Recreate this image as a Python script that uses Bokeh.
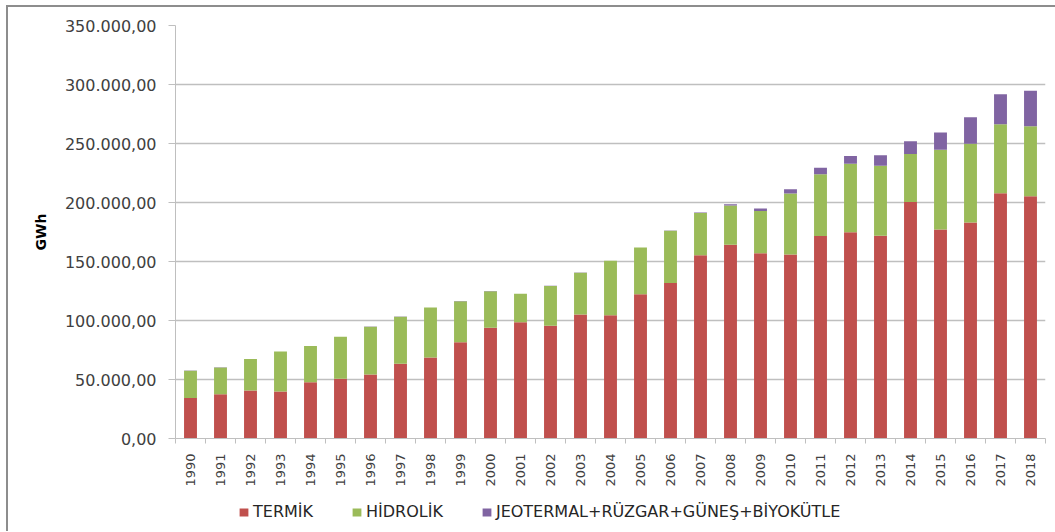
import math
from bokeh.plotting import figure
from bokeh.layouts import column
from bokeh.models import FixedTicker, Legend, LegendItem, PrintfTickFormatter, Range1d
from bokeh.embed import file_html
from bokeh.resources import INLINE

years = list(range(1990, 2019))
termik = [34315, 37563, 40704, 39779, 47757, 50621, 54302, 63397, 68703, 81661,
          93934, 98563, 95563, 105101, 104464, 122242, 131835, 155196, 164139, 156923,
          155828, 171638, 174872, 171797, 200417, 177100, 183000, 207900, 205400]
hidrolik = [23148, 22683, 26568, 33951, 30586, 35541, 40475, 39816, 42229, 34678,
            30879, 24010, 33684, 35330, 46084, 39561, 44244, 35851, 33270, 35958,
            51796, 52339, 57865, 59420, 40645, 67600, 66700, 58500, 59300]
yenilenebilir = [80, 81, 70, 70, 79, 86, 84, 83, 90, 101,
                 109, 152, 153, 150, 151, 153, 220, 511, 1009, 1931,
                 3585, 5418, 6760, 8921, 10901, 14600, 22600, 25400, 30000]
series_names = ["TERMİK", "HİDROLİK", "JEOTERMAL+RÜZGAR+GÜNEŞ+BİYOKÜTLE"]
colors = ["#C0504D", "#9BBB59", "#8064A2"]
y_ticks = [0, 50000, 100000, 150000, 200000, 250000, 300000, 350000]
y_tick_labels = ["0,00", "50.000,00", "100.000,00", "150.000,00", "200.000,00",
                 "250.000,00", "300.000,00", "350.000,00"]

FONT = "DejaVu Sans"
TXT = "#404040"
GRID = "#BFBFBF"

p = figure(width=1047, height=482, output_backend="svg", toolbar_location=None,
           x_range=Range1d(years[0] - 0.5, years[-1] + 0.5),
           y_range=Range1d(0, 350000),
           min_border_left=167, min_border_right=10, min_border_top=18, min_border_bottom=51)
p.outline_line_color = None

data = {"year": years, "t": termik, "h": hidrolik, "r": yenilenebilir}
p.vbar_stack(["t", "h", "r"], x="year", width=0.43, source=data,
             color=colors, line_color=None)

# x axis
p.xaxis.ticker = FixedTicker(ticks=years, minor_ticks=[y + 0.5 for y in [years[0] - 1] + years])
p.xaxis.formatter = PrintfTickFormatter(format="%d")
p.xaxis.major_label_orientation = math.pi / 2
p.xaxis.major_tick_line_color = None
p.xaxis.major_tick_out = 0
p.xaxis.major_tick_in = 0
p.xaxis.minor_tick_out = 5
p.xaxis.minor_tick_in = 0
p.xaxis.minor_tick_line_color = GRID
p.xaxis.axis_line_color = GRID
p.xaxis.major_label_standoff = 10
p.xaxis.major_label_text_font = FONT
p.xaxis.major_label_text_font_size = "13px"
p.xaxis.major_label_text_color = TXT
p.xgrid.grid_line_color = None

# y axis
p.yaxis.ticker = FixedTicker(ticks=y_ticks)
p.yaxis.major_label_overrides = {t: l for t, l in zip(y_ticks, y_tick_labels)}
p.yaxis.minor_tick_line_color = None
p.yaxis.major_tick_out = 7
p.yaxis.major_tick_in = 0
p.yaxis.major_tick_line_color = GRID
p.yaxis.axis_line_color = GRID
p.yaxis.major_label_standoff = 12
p.yaxis.major_label_text_font = FONT
p.yaxis.major_label_text_font_size = "16px"
p.yaxis.major_label_text_color = TXT
p.yaxis.axis_label = "GWh"
p.yaxis.axis_label_text_font = FONT
p.yaxis.axis_label_text_font_size = "14px"
p.yaxis.axis_label_text_font_style = "bold"
p.yaxis.axis_label_text_color = "#000000"
p.yaxis.axis_label_standoff = 13
p.ygrid.grid_line_color = GRID
p.ygrid.grid_line_width = 1.5

# legend strip (separate figure so the legend is not clipped by the frame)
pl = figure(width=1047, height=42, output_backend="svg", toolbar_location=None,
            x_range=Range1d(0, 1), y_range=Range1d(0, 1),
            min_border_left=0, min_border_right=0, min_border_top=0, min_border_bottom=0)
pl.axis.visible = False
pl.grid.visible = False
pl.outline_line_color = None
dummies = [pl.vbar(x=[-10], top=[0], width=0.1, color=c, line_color=None) for c in colors]
legend = Legend(items=[LegendItem(label=n, renderers=[r]) for n, r in zip(series_names, dummies)],
                orientation="horizontal", location=(63, 10),
                glyph_width=11, glyph_height=10, label_standoff=4, spacing=38,
                padding=0, margin=0, border_line_color=None, background_fill_alpha=0,
                label_text_font=FONT, label_text_font_size="16px", label_text_color="#262626")
pl.add_layout(legend, "center")

layout = column(p, pl, spacing=0,
                styles={"margin-left": "6px", "margin-top": "5px",
                        "border-left": "2px solid #8d8d8d", "border-top": "2px solid #8d8d8d"})

open("out.html", "w").write(file_html(layout, INLINE))
